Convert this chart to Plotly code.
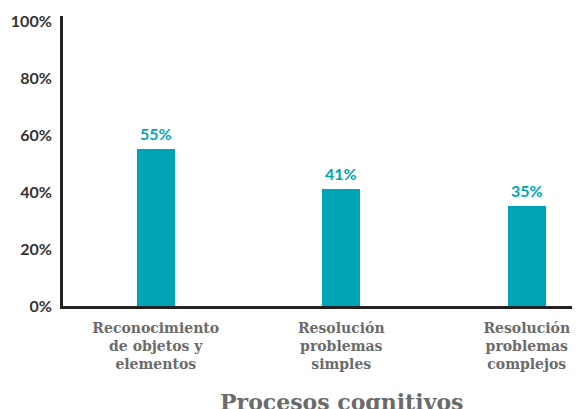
import plotly.graph_objects as go

categories = ["Reconocimiento<br>de objetos y<br>elementos",
              "Resolución<br>problemas<br>simples",
              "Resolución<br>problemas<br>complejos"]
values = [0.55, 0.41, 0.35]
value_labels = ["55%", "41%", "35%"]
tick_vals = [0, 0.2, 0.4, 0.6, 0.8, 1.0]
tick_labels = ["0%", "20%", "40%", "60%", "80%", "100%"]
x_title = "Procesos cognitivos"

teal = "#00A5B5"
gray = "#6b6b6b"
xpos = list(range(len(values)))

fig = go.Figure(go.Bar(
    x=xpos, y=values, width=0.205,
    marker=dict(color=teal, line=dict(width=0)),
))

for xi, v, lab in zip(xpos, values, value_labels):
    fig.add_annotation(
        x=xi, y=v, text="<b>%s</b>" % lab, showarrow=False,
        xanchor="center", yanchor="bottom", yshift=4,
        font=dict(family="Lato", size=16, color=teal),
    )

# page body has an 8px default margin, so the figure is sized to fit the window
fig.update_layout(
    width=572, height=401,
    margin=dict(l=55, r=0, t=8, b=103),
    paper_bgcolor="white", plot_bgcolor="white",
    showlegend=False,
    bargap=0,
)

fig.update_xaxes(
    range=[-0.5, 2.287], automargin=False,
    tickmode="array", tickvals=xpos,
    ticktext=["<b>%s</b>" % c for c in categories],
    tickfont=dict(family="DejaVu Serif", size=14, color=gray),
    showline=True, linecolor="#222222", linewidth=3,
    showgrid=False, zeroline=False, ticks="", ticklabelstandoff=7,
)
fig.update_yaxes(
    range=[0, 1.0175], automargin=False,
    tickmode="array", tickvals=tick_vals,
    ticktext=["<b>%s</b>" % t for t in tick_labels],
    tickfont=dict(family="Lato", size=16, color="#333333"),
    showline=True, linecolor="#222222", linewidth=3,
    showgrid=False, zeroline=False, ticks="", ticklabelstandoff=5,
)

fig.add_annotation(
    text="<b>%s</b>" % x_title, xref="paper", yref="paper",
    x=0.538, y=-0.33, xanchor="center", yanchor="middle",
    showarrow=False,
    font=dict(family="DejaVu Serif", size=22, color=gray),
)

fig.write_html("out.html")
